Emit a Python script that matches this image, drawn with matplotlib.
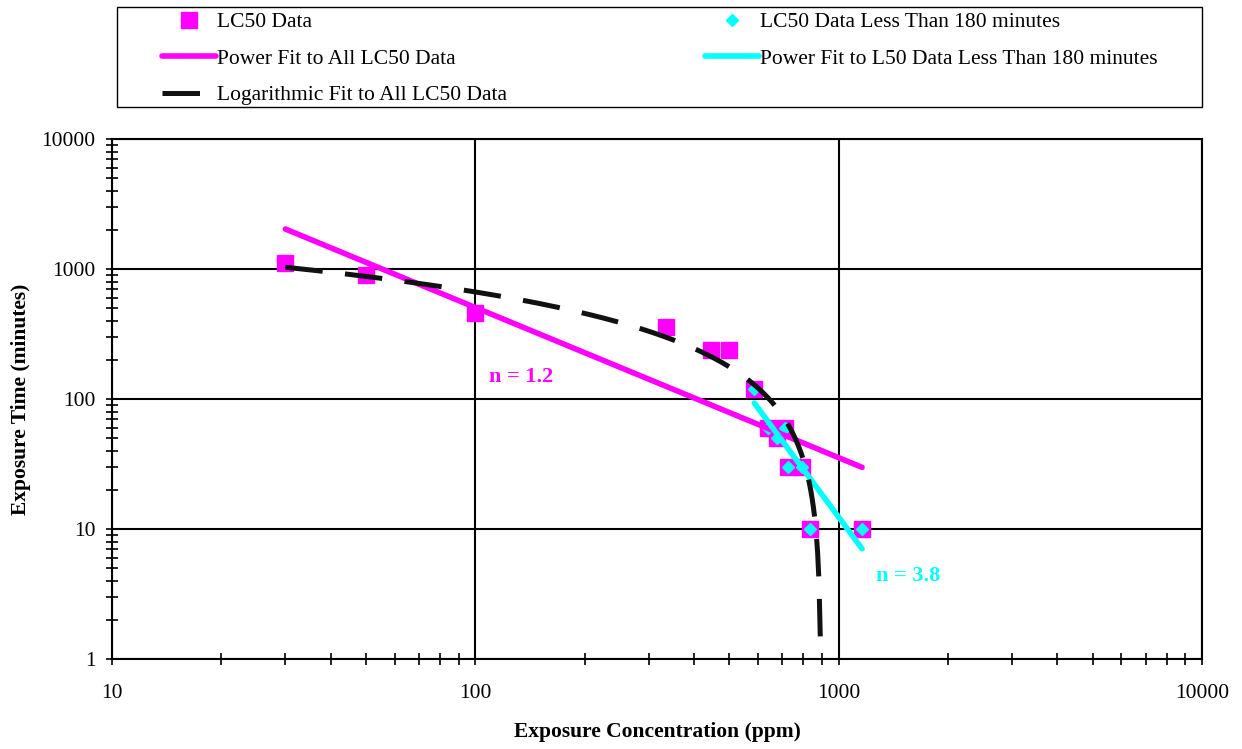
import numpy as np
import matplotlib
matplotlib.use("Agg")
import matplotlib.pyplot as plt
from matplotlib.patches import Rectangle
from matplotlib.ticker import LogLocator, NullFormatter, FixedLocator

plt.rcParams['font.family'] = ['Liberation Serif', 'DejaVu Serif']

# LC50 data (ppm, minutes)
conc = [30, 50, 100, 335, 445, 500, 586, 637, 713, 676, 726, 794, 834, 1162]
time = [1110, 900, 455, 358, 240, 240, 120, 60, 60, 50, 30, 30, 10, 10]

# subset below 180 minutes
conc_short = [586, 637, 713, 676, 726, 794, 834, 1162]
time_short = [120, 60, 60, 50, 30, 30, 10, 10]

# power fit to all data: t = a * C^-n
pow_all_a = 103200.0
pow_all_n = 1.155
pow_all_range = (30, 1160)

# power fit to data < 180 min
pow_short_a = 2.7e12
pow_short_n = 3.78
pow_short_range = (586, 1160)

# logarithmic fit: t = a - b*ln(C)
log_a = 2066.0
log_b = 304.0
log_range = (30, 890)

W, H = 1242, 749
fig = plt.figure(figsize=(W / 100, H / 100), dpi=100)
ax = fig.add_axes([112 / W, 1 - 659 / H, 1090 / W, 520 / H])

magenta = '#FF00FF'
cyan = '#00FFFF'
fs = 15.5

ax.plot(conc, time, 's', color=magenta, markersize=11.5, zorder=3,
        label='LC50 Data')
ax.plot(conc_short, time_short, 'D', color=cyan, markersize=6, zorder=4,
        label='LC50 Data Less Than 180 minutes')

c1 = np.geomspace(*pow_all_range, 50)
ax.plot(c1, pow_all_a * c1 ** -pow_all_n, color=magenta, lw=4, zorder=5,
        solid_capstyle='round', label='Power Fit to All LC50 Data')

c2 = np.geomspace(*pow_short_range, 50)
ax.plot(c2, pow_short_a * c2 ** -pow_short_n, color=cyan, lw=4, zorder=6,
        solid_capstyle='round', label='Power Fit to L50 Data Less Than 180 minutes')

c3 = np.geomspace(*log_range, 400)
ax.plot(c3, log_a - log_b * np.log(c3), color='#111111', lw=3.6, zorder=7,
        dashes=(7.5, 4.5), label='Logarithmic Fit to All LC50 Data')

ax.set_xscale('log')
ax.set_yscale('log')
ax.set_xlim(10, 10000)
ax.set_ylim(1, 10000)

ax.xaxis.set_major_locator(FixedLocator([10, 100, 1000, 10000]))
ax.yaxis.set_major_locator(FixedLocator([1, 10, 100, 1000, 10000]))
ax.set_xticklabels(['10', '100', '1000', '10000'])
ax.set_yticklabels(['1', '10', '100', '1000', '10000'])
ax.xaxis.set_minor_locator(LogLocator(base=10, subs=np.arange(2, 10), numticks=20))
ax.yaxis.set_minor_locator(LogLocator(base=10, subs=np.arange(2, 10), numticks=20))
ax.xaxis.set_minor_formatter(NullFormatter())
ax.yaxis.set_minor_formatter(NullFormatter())

ax.tick_params(which='both', direction='inout', length=8, width=1.2, labelsize=fs)
ax.tick_params(axis='x', which='both', pad=14)
ax.tick_params(axis='y', which='both', pad=8)
ax.tick_params(which='both', top=False, right=False)

ax.grid(which='major', color='black', lw=1.5)
ax.set_axisbelow(True)
for s in ax.spines.values():
    s.set_linewidth(1.5)

ax.set_xlabel('Exposure Concentration (ppm)', fontsize=fs, fontweight='bold', labelpad=14)
ax.set_ylabel('Exposure Time (minutes)', fontsize=fs, fontweight='bold', labelpad=7)

ax.text(109, 147, 'n = 1.2', color=magenta, fontsize=16, fontweight='bold',
        ha='left', va='center')
ax.text(1268, 4.35, 'n = 3.8', color=cyan, fontsize=16, fontweight='bold',
        ha='left', va='center')

# legend box
fig.patches.append(Rectangle((117 / W, 1 - 107 / H), 1085 / W, 100 / H,
                             transform=fig.transFigure, fill=False,
                             edgecolor='black', lw=1.0))

handles, labels = ax.get_legend_handles_labels()
order = [0, 2, 4, 1, 3]
leg = fig.legend([handles[i] for i in order], [labels[i] for i in order],
                 ncol=2, loc='upper left', bbox_to_anchor=(162 / W, 1 - 12 / H),
                 fontsize=fs, frameon=False,
                 handlelength=2.5, handletextpad=0.05, labelspacing=0.77,
                 columnspacing=9.2, borderpad=0, borderaxespad=0)

fig.savefig('out.png', dpi=100)
